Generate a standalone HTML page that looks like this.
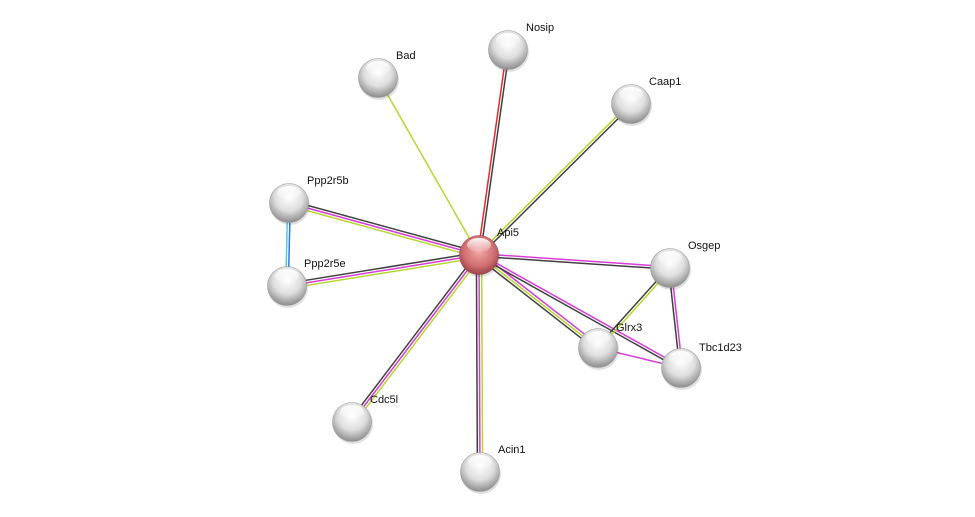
<!DOCTYPE html>
<html><head><meta charset="utf-8"><style>
html,body{margin:0;padding:0;background:#fff;}
svg{display:block;}
text{font-family:"Liberation Sans",sans-serif;font-size:11px;fill:#111;}
</style></head><body>
<svg id="s" width="975" height="517" viewBox="0 0 975 517" xmlns="http://www.w3.org/2000/svg">
<defs>
<radialGradient id="g" cx="50%" cy="35%" r="65%">
<stop offset="0" stop-color="#ffffff"/><stop offset="0.55" stop-color="#dedede"/><stop offset="1" stop-color="#8c8c8c"/>
</radialGradient>
<radialGradient id="r" cx="50%" cy="40%" r="65%">
<stop offset="0" stop-color="#f2a8a8"/><stop offset="0.6" stop-color="#d16f72"/><stop offset="1" stop-color="#8e3a3e"/>
</radialGradient>
<linearGradient id="hl" x1="0" y1="0" x2="0" y2="1">
<stop offset="0" stop-color="#fff" stop-opacity="0.95"/><stop offset="1" stop-color="#fff" stop-opacity="0.1"/>
</linearGradient>
</defs>
<g id="edges"></g><g id="nodes"></g>
</svg>
<script>
var N={Api5:[479,255],Nosip:[508,50],Bad:[378,78],Caap1:[631,104],Ppp2r5b:[289,203],Ppp2r5e:[287,286],Osgep:[670,268],Glrx3:[598,348],Tbc1d23:[681,368],Cdc5l:[352,422],Acin1:[480,472]};
var Y="#b7d62b",M="#d83cd8",K="#404040",R="#e8282a",B="#2a7de0",C="#55c8e8";
var E=[["Api5","Nosip",[R,K]],["Api5","Bad",[Y]],["Api5","Caap1",[Y,K]],["Api5","Ppp2r5b",[Y,M,K]],["Api5","Ppp2r5e",[Y,M,K]],["Ppp2r5b","Ppp2r5e",[B,C]],["Api5","Osgep",[M,K]],["Api5","Glrx3",[M,Y,K]],["Api5","Tbc1d23",[M,K]],["Api5","Cdc5l",[Y,M,K]],["Api5","Acin1",[Y,M,K]],["Osgep","Glrx3",[Y,K]],["Osgep","Tbc1d23",[M,K]],["Glrx3","Tbc1d23",[M]]];
var ns="http://www.w3.org/2000/svg",eg=document.getElementById("edges"),ng=document.getElementById("nodes");
function el(t,a,p){var e=document.createElementNS(ns,t);for(var k in a)e.setAttribute(k,a[k]);p.appendChild(e);return e;}
E.forEach(function(e){var a=N[e[0]],b=N[e[1]],dx=b[0]-a[0],dy=b[1]-a[1],l=Math.hypot(dx,dy),px=-dy/l,py=dx/l,n=e[2].length;
e[2].forEach(function(c,i){var o=(i-(n-1)/2)*2.6;el("line",{x1:a[0]+px*o,y1:a[1]+py*o,x2:b[0]+px*o,y2:b[1]+py*o,stroke:c,"stroke-width":1.5},eg);});});
for(var k in N){var p=N[k],main=k=="Api5";
el("circle",{cx:p[0]+1,cy:p[1]+2,r:20,fill:"#000",opacity:0.12},ng);
el("circle",{cx:p[0],cy:p[1],r:19.5,fill:main?"url(#r)":"url(#g)",stroke:main?"#9a4448":"#9a9a9a","stroke-width":0.6},ng);
el("ellipse",{cx:p[0],cy:p[1]-10,rx:12,ry:7,fill:"url(#hl)"},ng);
var t=el("text",{x:p[0]+(k=="Ppp2r5e"?17:18),y:p[1]-(k=="Glrx3"||k=="Tbc1d23"?17:19)},ng);t.textContent=k;}
</script>
</body></html>
